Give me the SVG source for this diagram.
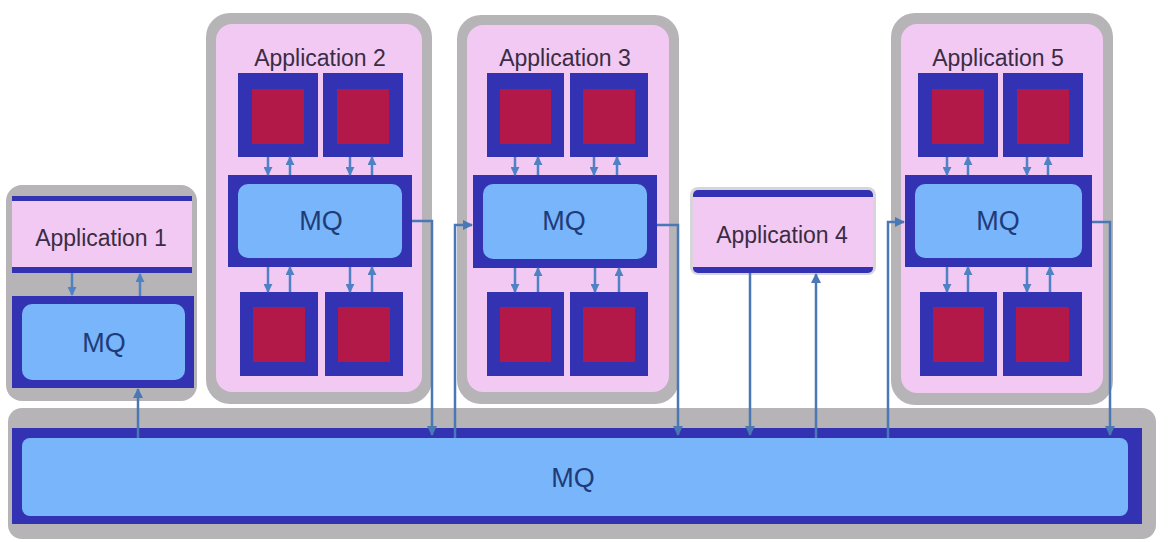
<svg xmlns="http://www.w3.org/2000/svg" width="1172" height="542" viewBox="0 0 1172 542">
  <defs>
    <marker id="ah" viewBox="0 0 10 10" refX="9" refY="5" markerWidth="10" markerHeight="10" markerUnits="userSpaceOnUse" orient="auto">
      <path d="M0,0 L10,5 L0,10 z" fill="#4a78b4"/>
    </marker>
    <marker id="ahs" viewBox="0 0 10 10" refX="9" refY="5" markerWidth="9" markerHeight="9" markerUnits="userSpaceOnUse" orient="auto">
      <path d="M0,0 L10,5 L0,10 z" fill="#4f82c4"/>
    </marker>
  </defs>
  <style>
    .frame { fill: #b6b4b6; }
    .pink { fill: #f1c9f3; }
    .dblue { fill: #3232b2; }
    .lblue { fill: #78b5fa; }
    .red { fill: #b21848; }
    .lbl { font-family: "Liberation Sans", Arial, sans-serif; font-size: 23px; fill: #3a2c44; text-anchor: middle; }
    .mq { font-family: "Liberation Sans", Arial, sans-serif; font-size: 27px; fill: #1f3c78; text-anchor: middle; }
    .conn { fill: none; stroke: #4a78b4; stroke-width: 2.5; marker-end: url(#ah); }
    .sm { fill: none; stroke: #4f82c4; stroke-width: 2.5; marker-end: url(#ahs); }
  </style>
  <rect width="1172" height="542" fill="#ffffff"/>

  <!-- Main bus MQ -->
  <g id="mq-bus">
    <rect class="frame" x="8" y="408" width="1148" height="131" rx="14"/>
    <rect class="dblue" x="12" y="428" width="1130" height="96"/>
    <rect class="lblue" x="22" y="438" width="1106" height="78" rx="8"/>
    <text class="mq" x="573" y="487">MQ</text>
  </g>

  <!-- Application 1 -->
  <g id="app1">
    <rect class="frame" x="6" y="185" width="191" height="216" rx="16"/>
    <rect class="dblue" x="12" y="196" width="180" height="77"/>
    <rect class="pink" x="12" y="201" width="180" height="66"/>
    <text class="lbl" x="101" y="246">Application 1</text>
    <rect class="dblue" x="12" y="296" width="182" height="92"/>
    <rect class="lblue" x="22" y="304" width="163" height="76" rx="10"/>
    <text class="mq" x="104" y="352">MQ</text>
    <path class="sm" d="M72 273 V295"/>
    <path class="sm" d="M140 296 V274"/>
  </g>

  <!-- Application 2 -->
  <g id="app2">
    <rect class="frame" x="206" y="13" width="226" height="391" rx="24"/>
    <rect class="pink" x="216" y="24" width="206" height="368" rx="16"/>
    <text class="lbl" x="320" y="66">Application 2</text>
    <rect class="dblue" x="238" y="73" width="80" height="84"/>
    <rect class="red" x="252" y="89" width="52" height="55"/>
    <rect class="dblue" x="323" y="73" width="80" height="84"/>
    <rect class="red" x="337" y="89" width="52" height="55"/>
    <rect class="dblue" x="228" y="175" width="184" height="92"/>
    <rect class="lblue" x="238" y="184" width="164" height="74" rx="10"/>
    <text class="mq" x="321" y="230">MQ</text>
    <rect class="dblue" x="240" y="292" width="78" height="84"/>
    <rect class="red" x="253" y="307" width="52" height="55"/>
    <rect class="dblue" x="325" y="292" width="78" height="84"/>
    <rect class="red" x="338" y="307" width="52" height="55"/>
    <path class="sm" d="M268 157 V175"/>
    <path class="sm" d="M290 175 V157"/>
    <path class="sm" d="M350 157 V175"/>
    <path class="sm" d="M372 175 V157"/>
    <path class="sm" d="M268 267 V292"/>
    <path class="sm" d="M290 292 V267"/>
    <path class="sm" d="M350 267 V292"/>
    <path class="sm" d="M372 292 V267"/>
  </g>

  <!-- Application 3 -->
  <g id="app3">
    <rect class="frame" x="457" y="15" width="222" height="389" rx="24"/>
    <rect class="pink" x="467" y="25" width="202" height="367" rx="16"/>
    <text class="lbl" x="565" y="66">Application 3</text>
    <rect class="dblue" x="487" y="73" width="77" height="84"/>
    <rect class="red" x="500" y="89" width="51" height="55"/>
    <rect class="dblue" x="570" y="73" width="78" height="84"/>
    <rect class="red" x="583" y="89" width="52" height="55"/>
    <rect class="dblue" x="473" y="175" width="184" height="93"/>
    <rect class="lblue" x="483" y="184" width="164" height="75" rx="10"/>
    <text class="mq" x="564" y="230">MQ</text>
    <rect class="dblue" x="487" y="292" width="77" height="84"/>
    <rect class="red" x="500" y="307" width="51" height="55"/>
    <rect class="dblue" x="570" y="292" width="78" height="84"/>
    <rect class="red" x="583" y="307" width="52" height="55"/>
    <path class="sm" d="M515 157 V175"/>
    <path class="sm" d="M538 175 V157"/>
    <path class="sm" d="M594 157 V175"/>
    <path class="sm" d="M617 175 V157"/>
    <path class="sm" d="M515 268 V292"/>
    <path class="sm" d="M538 292 V268"/>
    <path class="sm" d="M595 268 V292"/>
    <path class="sm" d="M619 292 V268"/>
  </g>

  <!-- Application 4 -->
  <g id="app4">
    <rect x="690" y="187" width="186" height="88" rx="8" fill="#d8d4dc"/>
    <rect class="dblue" x="693" y="190" width="180" height="83" rx="5"/>
    <rect class="pink" x="693" y="197" width="180" height="70"/>
    <text class="lbl" x="782" y="243">Application 4</text>
  </g>

  <!-- Application 5 -->
  <g id="app5">
    <rect class="frame" x="891" y="13" width="222" height="392" rx="24"/>
    <rect class="pink" x="901" y="24" width="202" height="369" rx="16"/>
    <text class="lbl" x="998" y="66">Application 5</text>
    <rect class="dblue" x="918" y="73" width="80" height="84"/>
    <rect class="red" x="932" y="89" width="52" height="55"/>
    <rect class="dblue" x="1003" y="73" width="80" height="84"/>
    <rect class="red" x="1017" y="89" width="52" height="55"/>
    <rect class="dblue" x="905" y="175" width="187" height="92"/>
    <rect class="lblue" x="915" y="184" width="167" height="74" rx="10"/>
    <text class="mq" x="998" y="230">MQ</text>
    <rect class="dblue" x="920" y="292" width="77" height="84"/>
    <rect class="red" x="933" y="307" width="51" height="55"/>
    <rect class="dblue" x="1003" y="292" width="79" height="84"/>
    <rect class="red" x="1016" y="307" width="53" height="55"/>
    <path class="sm" d="M947 157 V175"/>
    <path class="sm" d="M968 175 V157"/>
    <path class="sm" d="M1027 157 V175"/>
    <path class="sm" d="M1048 175 V157"/>
    <path class="sm" d="M947 267 V292"/>
    <path class="sm" d="M968 292 V267"/>
    <path class="sm" d="M1027 267 V292"/>
    <path class="sm" d="M1050 292 V267"/>
  </g>

  <!-- Connectors -->
  <g id="connectors">
    <path class="conn" d="M138 438 V389"/>
    <path class="conn" d="M412 221 H432 V435"/>
    <path class="conn" d="M455 438 V225 H472"/>
    <path class="conn" d="M657 225 H678 V435"/>
    <path class="conn" d="M750 273 V435"/>
    <path class="conn" d="M816 438 V274"/>
    <path class="conn" d="M888 438 V222 H904"/>
    <path class="conn" d="M1092 222 H1110 V435"/>
  </g>
</svg>
